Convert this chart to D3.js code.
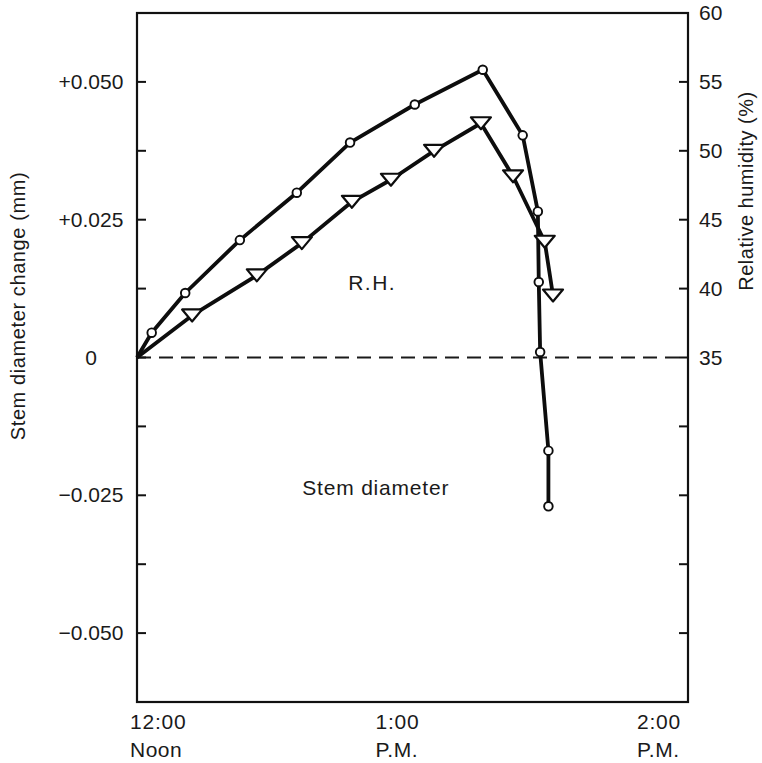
<!DOCTYPE html>
<html>
<head>
<meta charset="utf-8">
<script src="https://cdn.jsdelivr.net/npm/d3@7"></script>
<style>
  body { margin: 0; background: #fff; }
  svg text { font-family: "Liberation Sans", Arial, sans-serif; fill: #1a1a1a; }
</style>
</head>
<body>
<svg id="chart" width="762" height="763"></svg>
<script>
// minutes after noon
const diamTime = [0, 3.2, 10.5, 22.4, 34.8, 46.4, 60.5, 75.3, 84.0, 87.3, 87.5, 87.8, 89.6, 89.6];
const diamValue = [0, 0.0045, 0.0117, 0.0213, 0.0299, 0.039, 0.0459, 0.0522, 0.0403, 0.0265, 0.0137, 0.001, -0.0169, -0.027];

const rhTime = [0, 12.0, 26.1, 35.9, 46.8, 55.3, 64.7, 74.9, 81.9, 88.8, 90.6];
const rhValue = [35, 38.05, 40.96, 43.3, 46.3, 47.9, 50.0, 52.0, 48.15, 43.4, 39.5];

const leftTicks = [-0.05, -0.0375, -0.025, -0.0125, 0, 0.0125, 0.025, 0.0375, 0.05];
const leftLabels = [
  { v: 0.05, t: "+0.050" },
  { v: 0.025, t: "+0.025" },
  { v: 0, t: "0" },
  { v: -0.025, t: "\u22120.025" },
  { v: -0.05, t: "\u22120.050" },
];
const rightTicks = [15, 20, 25, 30, 35, 40, 45, 50, 55, 60];
const rightLabels = [35, 40, 45, 50, 55, 60];
const timeLabels = [
  { m: 0, top: "12:00", bottom: "Noon" },
  { m: 60, top: "1:00", bottom: "P.M." },
  { m: 120, top: "2:00", bottom: "P.M." },
];

const W = 762, H = 763;
const margin = { top: 13, right: 74, bottom: 61, left: 137 };

const svg = d3.select("#chart");

const x = d3.scaleLinear().domain([0, 120]).range([margin.left, W - margin.right]);
const yL = d3.scaleLinear().domain([-0.0625, 0.0625]).range([H - margin.bottom, margin.top]);
const yR = d3.scaleLinear().domain([10, 60]).range([H - margin.bottom, margin.top]);

/* zero reference line */
svg.append("line")
  .attr("x1", x(0)).attr("x2", x(120))
  .attr("y1", yL(0)).attr("y2", yL(0))
  .attr("stroke", "#1a1a1a")
  .attr("stroke-width", 2)
  .attr("stroke-dasharray", "14,8");

/* frame */
svg.append("rect")
  .attr("x", margin.left).attr("y", margin.top)
  .attr("width", W - margin.left - margin.right)
  .attr("height", H - margin.top - margin.bottom)
  .attr("fill", "none")
  .attr("stroke", "#111")
  .attr("stroke-width", 2.2);

/* left ticks, pointing inward */
svg.append("g").selectAll("line")
  .data(leftTicks)
  .join("line")
  .attr("x1", x(0)).attr("x2", x(0) + 9)
  .attr("y1", (d) => yL(d)).attr("y2", (d) => yL(d))
  .attr("stroke", "#111").attr("stroke-width", 2);

svg.append("g").selectAll("text")
  .data(leftLabels)
  .join("text")
  .attr("x", x(0) - 46)
  .attr("y", (d) => yL(d.v) + 7)
  .attr("text-anchor", "middle")
  .attr("font-size", 21)
  .text((d) => d.t);

/* right ticks */
svg.append("g").selectAll("line")
  .data(rightTicks)
  .join("line")
  .attr("x1", x(120) - 9).attr("x2", x(120))
  .attr("y1", (d) => yR(d)).attr("y2", (d) => yR(d))
  .attr("stroke", "#111").attr("stroke-width", 2);

svg.append("g").selectAll("text")
  .data(rightLabels)
  .join("text")
  .attr("x", x(120) + 11)
  .attr("y", (d) => yR(d) + 7)
  .attr("font-size", 21)
  .text((d) => d);

/* time labels */
const tl = svg.append("g").selectAll("g")
  .data(timeLabels)
  .join("g")
  .attr("transform", (d) => {
    const off = d.m === 0 ? -7 : d.m === 60 ? -37 : -51;
    return `translate(${x(d.m) + off},0)`;
  });
tl.append("text").attr("y", 729).attr("font-size", 21).attr("letter-spacing", 0.8).text((d) => d.top);
tl.append("text").attr("y", 757).attr("font-size", 21).attr("letter-spacing", 0.5).text((d) => d.bottom);

/* axis titles */
svg.append("text")
  .attr("transform", `translate(25,${306}) rotate(-90)`)
  .attr("text-anchor", "middle")
  .attr("font-size", 20)
  .attr("letter-spacing", 0.6)
  .text("Stem diameter change (mm)");

svg.append("text")
  .attr("transform", `translate(753,${191}) rotate(-90)`)
  .attr("text-anchor", "middle")
  .attr("font-size", 20)
  .attr("letter-spacing", 0.5)
  .text("Relative humidity (%)");

/* in-plot labels */
svg.append("text")
  .attr("x", x(46.0)).attr("y", 290)
  .attr("font-size", 21)
  .attr("letter-spacing", 1.5)
  .text("R.H.");
svg.append("text")
  .attr("x", x(36.0)).attr("y", 495)
  .attr("font-size", 21)
  .attr("letter-spacing", 0.8)
  .text("Stem diameter");

/* series */
const diam = diamTime.map((t, i) => ({ t, v: diamValue[i] }));
const rh = rhTime.map((t, i) => ({ t, v: rhValue[i] }));

svg.append("path")
  .datum(rh)
  .attr("fill", "none")
  .attr("stroke", "#0d0d0d")
  .attr("stroke-width", 3.8)
  .attr("stroke-linejoin", "round")
  .attr("d", d3.line().x((d) => x(d.t)).y((d) => yR(d.v)));

svg.append("path")
  .datum(diam)
  .attr("fill", "none")
  .attr("stroke", "#0d0d0d")
  .attr("stroke-width", 3.8)
  .attr("stroke-linejoin", "round")
  .attr("d", d3.line().x((d) => x(d.t)).y((d) => yL(d.v)));

svg.append("g").selectAll("path")
  .data(rh.slice(1))
  .join("path")
  .attr("transform", (d) => `translate(${x(d.t)},${yR(d.v)})`)
  .attr("d", "M-10,-6L10,-6L0,6Z")
  .attr("fill", "#fff")
  .attr("stroke", "#0d0d0d")
  .attr("stroke-width", 2.2)
  .attr("stroke-linejoin", "round");

svg.append("g").selectAll("circle")
  .data(diam.slice(1))
  .join("circle")
  .attr("cx", (d) => x(d.t))
  .attr("cy", (d) => yL(d.v))
  .attr("r", 4.3)
  .attr("fill", "#fff")
  .attr("stroke", "#0d0d0d")
  .attr("stroke-width", 1.9);
</script>
</body>
</html>
